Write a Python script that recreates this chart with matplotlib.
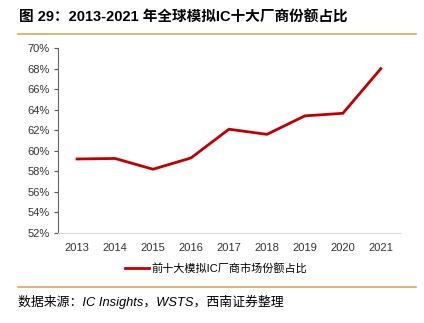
import matplotlib.pyplot as plt
from matplotlib.lines import Line2D

years = ['2013', '2014', '2015', '2016', '2017', '2018', '2019', '2020', '2021']
share = [59.2, 59.25, 58.2, 59.3, 62.1, 61.6, 63.4, 63.65, 68.0]
yticks = [52, 54, 56, 58, 60, 62, 64, 66, 68, 70]

plt.rcParams['font.family'] = ['Liberation Sans', 'Noto Sans CJK SC', 'DejaVu Sans']

fig = plt.figure(figsize=(4.24, 3.23), dpi=100)
ax = fig.add_axes([0.137, 0.279, 0.806, 0.572])

x = list(range(len(years)))
ax.plot(x, share, color='#c00000', linewidth=2.0, solid_joinstyle='miter')
ax.set_xlim(-0.5, len(years) - 0.5)
ax.set_ylim(52, 70)
ax.set_xticks(x)
ax.set_xticklabels(years)
ax.set_yticks(yticks)
ax.set_yticklabels([f'{v}%' for v in yticks])
ax.tick_params(axis='both', labelsize=8, colors='#333333')
ax.tick_params(axis='x', length=0, pad=7)
ax.tick_params(axis='y', length=3, direction='out', color='#555555', pad=3)
for s in ['top', 'right']:
    ax.spines[s].set_visible(False)
ax.spines['left'].set_color('#666666')
ax.spines['left'].set_linewidth(0.8)
ax.spines['bottom'].set_color('#d9d9d9')
ax.spines['bottom'].set_linewidth(0.8)

handle = Line2D([], [], color='#c00000', linewidth=2.0)
fig.legend([handle], ['前十大模拟IC厂商市场份额占比'], loc='center',
           bbox_to_anchor=(0.51, 0.17), frameon=False, handlelength=2.2,
           handletextpad=0.2, prop={'family': ['Liberation Sans', 'Noto Sans CJK SC'], 'size': 8})

fig.text(0.045, 0.945, '图 29：2013-2021 年全球模拟IC十大厂商份额占比',
         fontsize=10.5, fontweight='bold', va='center',
         family=['Liberation Sans', 'Noto Sans CJK SC', 'DejaVu Sans'])
fig.add_artist(Line2D([0.042, 0.982], [0.895, 0.895], color='#e3a35a', linewidth=1.2))
fig.add_artist(Line2D([0.042, 0.982], [0.112, 0.112], color='#e3a35a', linewidth=1.2))
fig.text(0.042, 0.065, '数据来源：IC Insights，WSTS，西南证券整理', fontsize=9.3,
         style='italic', va='center',
         family=['Liberation Sans', 'Noto Sans CJK SC', 'DejaVu Sans'])

fig.savefig('out.png', dpi=100)
